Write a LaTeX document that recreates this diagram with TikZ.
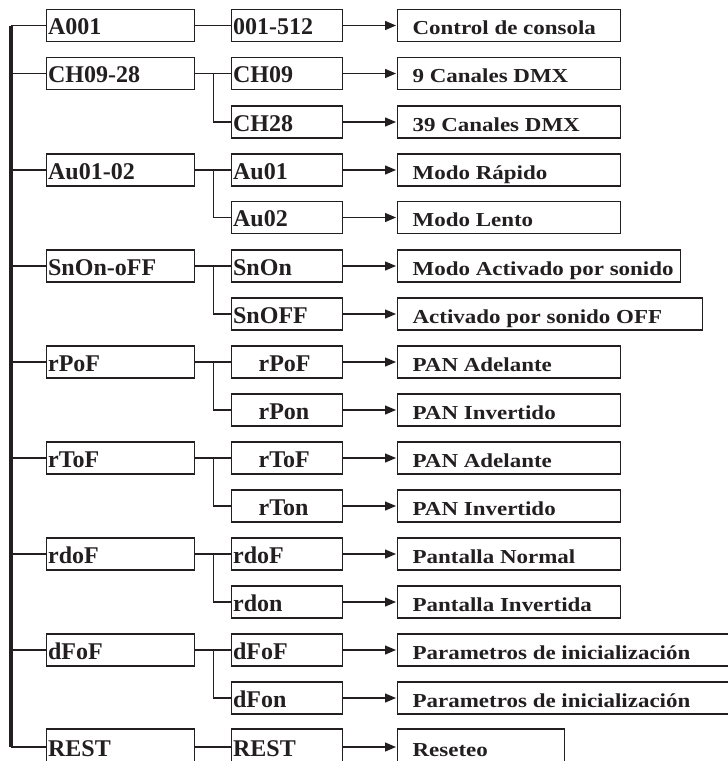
\documentclass[tikz,border=0pt]{standalone}
\usepackage{fontspec}
\setmainfont{Liberation Serif}
\newfontfamily\lthreefont[FakeStretch=1.16]{Liberation Serif}
\usetikzlibrary{arrows.meta}
\definecolor{ink}{HTML}{231F20}
\newcommand\fixw[2]{\makebox[#1][l]{#2}}
\begin{document}
\begin{tikzpicture}[x=1pt,y=-1pt,
  box/.style={draw=ink, line width=1.3pt, anchor=west, minimum height=32pt,
              text height=18pt, text depth=0pt, text=ink, inner ysep=0pt},
  lone/.style={box, inner xsep=1.5pt, font=\fontsize{24}{24}\selectfont\bfseries},
  ltwo/.style={box, inner xsep=1.5pt, font=\fontsize{24}{24}\selectfont\bfseries},
  lthree/.style={box, inner xsep=0pt, font=\fontsize{19.8}{20}\lthreefont\bfseries},
  tall/.style={minimum height=36pt},
  conn/.style={draw=ink, line width=1.3pt},
  arr/.style={conn, -{Triangle[length=11pt,width=9pt]}, shorten >=1pt},
  mainbar/.style={draw=ink, line width=3.5pt}]
\useasboundingbox (0,0) rectangle (728,761);
\clip (0,0) rectangle (728,761);
\fill[white] (0,0) rectangle (728,761);

% level 1
\node[lone] (p1) at (46,25.5) {\fixw{145pt}{A001}};
\node[lone] (p2) at (46,73.5) {\fixw{145pt}{CH09-28}};
\node[lone] (p3) at (46,170) {\fixw{145pt}{Au01-02}};
\node[lone] (p4) at (46,266) {\fixw{145pt}{SnOn-oFF}};
\node[lone] (p5) at (46,362) {\fixw{145pt}{rPoF}};
\node[lone] (p6) at (46,458) {\fixw{145pt}{rToF}};
\node[lone] (p7) at (46,554) {\fixw{145pt}{rdoF}};
\node[lone] (p8) at (46,650) {\fixw{145pt}{dFoF}};
\node[lone,tall] (p9) at (46,747) {\fixw{145pt}{REST}};

% level 2
\node[ltwo] (c0)  at (231,25.5) {\fixw{108pt}{001-512}};
\node[ltwo] (c1)  at (231,73.5) {\fixw{108pt}{CH09}};
\node[ltwo] (c2)  at (231,122)  {\fixw{108pt}{CH28}};
\node[ltwo] (c3)  at (231,170)  {\fixw{108pt}{Au01}};
\node[ltwo] (c4)  at (231,217.5){\fixw{108pt}{Au02}};
\node[ltwo] (c5)  at (231,266)  {\fixw{108pt}{SnOn}};
\node[ltwo] (c6)  at (231,314)  {\fixw{108pt}{SnOFF}};
\node[ltwo] (c7)  at (231,362)  {\fixw{108pt}{\hspace*{25.5pt}rPoF}};
\node[ltwo] (c8)  at (231,410)  {\fixw{108pt}{\hspace*{25.5pt}rPon}};
\node[ltwo] (c9)  at (231,458)  {\fixw{108pt}{\hspace*{25.5pt}rToF}};
\node[ltwo] (c10) at (231,506)  {\fixw{108pt}{\hspace*{25.5pt}rTon}};
\node[ltwo] (c11) at (231,554)  {\fixw{108pt}{rdoF}};
\node[ltwo] (c12) at (231,602)  {\fixw{108pt}{rdon}};
\node[ltwo] (c13) at (231,650)  {\fixw{108pt}{dFoF}};
\node[ltwo] (c14) at (231,698)  {\fixw{108pt}{dFon}};
\node[ltwo,tall] (c15) at (231,747) {\fixw{108pt}{REST}};

% level 3
\node[lthree] (t0)  at (397,25.5) {\fixw{223pt}{\hspace*{15pt}Control de consola}};
\node[lthree] (t1)  at (397,73.5) {\fixw{223pt}{\hspace*{15pt}9 Canales DMX}};
\node[lthree] (t2)  at (397,122)  {\fixw{223pt}{\hspace*{15pt}39 Canales DMX}};
\node[lthree] (t3)  at (397,170)  {\fixw{223pt}{\hspace*{15pt}Modo Rápido}};
\node[lthree] (t4)  at (397,217.5){\fixw{223pt}{\hspace*{15pt}Modo Lento}};
\node[lthree] (t5)  at (397,266)  {\fixw{283pt}{\hspace*{15pt}Modo Activado por sonido}};
\node[lthree] (t6)  at (397,314)  {\fixw{305pt}{\hspace*{15pt}Activado por sonido OFF}};
\node[lthree] (t7)  at (397,362)  {\fixw{223pt}{\hspace*{15pt}PAN Adelante}};
\node[lthree] (t8)  at (397,410)  {\fixw{223pt}{\hspace*{15pt}PAN Invertido}};
\node[lthree] (t9)  at (397,458)  {\fixw{223pt}{\hspace*{15pt}PAN Adelante}};
\node[lthree] (t10) at (397,506)  {\fixw{223pt}{\hspace*{15pt}PAN Invertido}};
\node[lthree] (t11) at (397,554)  {\fixw{223pt}{\hspace*{15pt}Pantalla Normal}};
\node[lthree] (t12) at (397,602)  {\fixw{223pt}{\hspace*{15pt}Pantalla Invertida}};
\node[lthree] (t13) at (397,650)  {\fixw{345pt}{\hspace*{15pt}Parametros de inicialización}};
\node[lthree] (t14) at (397,698)  {\fixw{345pt}{\hspace*{15pt}Parametros de inicialización}};
\node[lthree,tall] (t15) at (397,747) {\fixw{167pt}{\hspace*{15pt}Reseteo}};

% main bar
\coordinate (bartop) at (11,25.5);
\draw[mainbar] (bartop) -- (p9.west -| bartop);
\foreach \p in {p1,p2,p3,p4,p5,p6,p7,p8,p9}
  \draw[conn] (bartop |- \p.west) -- (\p.west);

% level 1 -> level 2
\draw[conn] (p1.east) -- (c0.west);
\draw[conn] (p9.east) -- (c15.west);
\foreach \p/\a/\b in {p2/c1/c2, p3/c3/c4, p4/c5/c6, p5/c7/c8, p6/c9/c10, p7/c11/c12, p8/c13/c14}{
  \draw[conn] (\p.east) -- (\a.west);
  \draw[conn] ([xshift=18pt]\p.east) |- (\b.west);
}

% level 2 -> level 3
\foreach \i in {0,...,15}
  \draw[arr] (c\i.east) -- (t\i.west);
\end{tikzpicture}
\end{document}
